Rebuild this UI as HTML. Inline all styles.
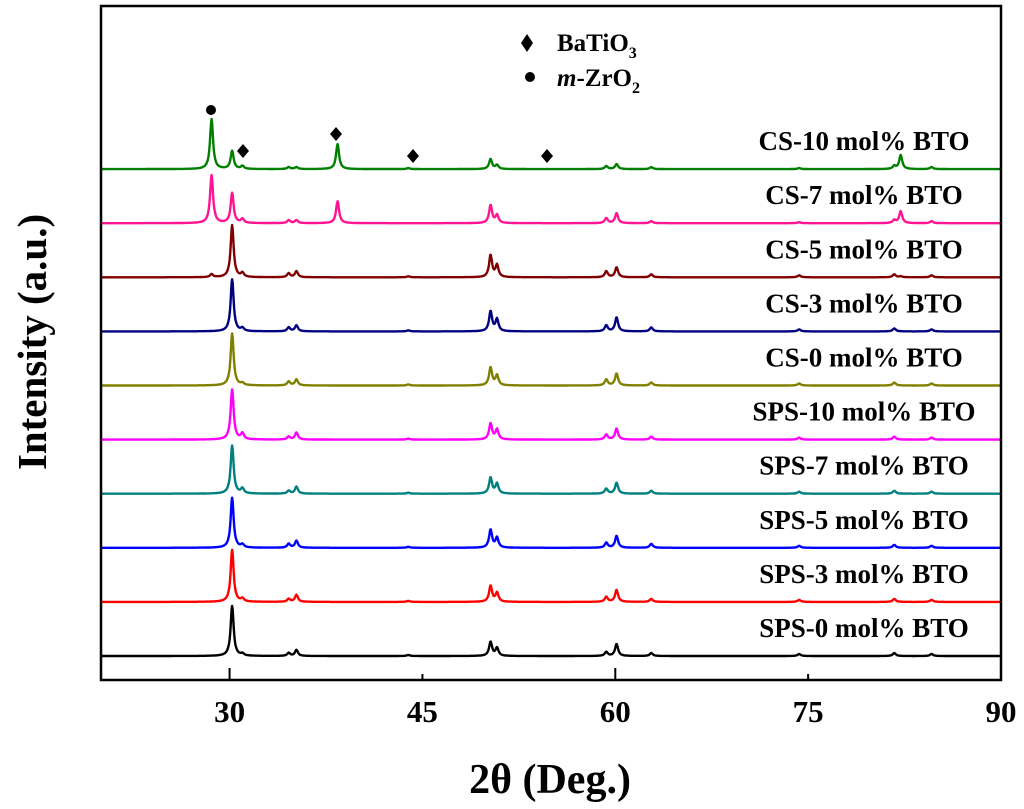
<!DOCTYPE html>
<html><head><meta charset="utf-8">
<style>
html,body{margin:0;padding:0;background:#fff;}
svg{display:block;}
text{font-family:"Liberation Serif",serif;font-weight:bold;fill:#000;}
</style></head>
<body>
<svg id="chart" width="1024" height="809" viewBox="0 0 1024 809">
<g id="series"></g>
<rect x="101" y="6" width="900" height="674" fill="none" stroke="#000" stroke-width="2.5"/>
<g id="xaxis"></g>
<g>
<path d="M527 34 L533 43 L527 52 L521 43 Z" fill="#000"/>
<text x="557" y="51" font-size="25">BaTiO<tspan font-size="16" dy="7">3</tspan></text>
<circle cx="530" cy="77" r="5" fill="#000"/>
<text x="557" y="86" font-size="25"><tspan font-style="italic">m</tspan>-ZrO<tspan font-size="16" dy="7">2</tspan></text>
</g>
<path d="M243 144 L249 151 L243 158 L237 151 Z" fill="#000"/>
<path d="M336 127 L342 134 L336 141 L330 134 Z" fill="#000"/>
<path d="M413 149 L419 156 L413 163 L407 156 Z" fill="#000"/>
<path d="M547 149 L553 156 L547 163 L541 156 Z" fill="#000"/>
<circle cx="211" cy="110" r="5" fill="#000"/>
<text x="0" y="0" font-size="41" text-anchor="middle" transform="translate(46,342) rotate(-90)">Intensity (a.u.)</text>
<text x="550" y="793" font-size="42" text-anchor="middle">2θ (Deg.)</text>
</svg>
<script>
const xMin = 20, xMax = 90;
const xTicks = [30, 45, 60, 75, 90];
const peakPositions = [28.6, 30.2, 31.0, 34.6, 35.2, 38.4, 43.9, 50.3, 50.8, 59.3, 60.1, 62.8, 74.3, 81.7, 82.2, 84.6];
const seriesNames = ["SPS-0 mol% BTO","SPS-3 mol% BTO","SPS-5 mol% BTO","SPS-7 mol% BTO","SPS-10 mol% BTO","CS-0 mol% BTO","CS-3 mol% BTO","CS-5 mol% BTO","CS-7 mol% BTO","CS-10 mol% BTO"];
const seriesColors = ["#000000","#ff0000","#0000ff","#008080","#ff00ff","#808000","#000080","#800000","#ff1493","#008000"];
const seriesOffsets = [0, 1, 2, 3, 4, 5, 6, 7, 8, 9];
const hSPS0 = [0,50,2,3,6,0,1,14,8,4,12,3,2,3,0,2];
const hSPS3 = [0,52,3,3,7,0,1,16,9,5,12,3,2,3,0,2];
const hSPS5 = [0,50,3,4,7,0,1,18,10,5,12,4,2,3,0,2];
const hSPS7 = [0,48,5,3,7,0,1,16,10,5,11,3,2,3,0,2];
const hSPS10 = [0,50,6,3,7,0,1,16,10,5,11,3,2,3,0,2];
const hCS0 = [0,52,2,4,6,0,1,18,10,6,12,3,2,3,0,2];
const hCS3 = [0,52,3,4,6,0,1,20,12,6,14,4,2,3,0,2];
const hCS5 = [3,52,4,4,6,0,1,22,12,6,10,3,2,3,1,2];
const hCS7 = [48,30,4,3,3,22,0,18,8,5,10,2,1,3,12,2];
const hCS10 = [50,18,3,2,2,25,1,10,4,3,5,2,1,3,14,2];
const allHeights = [hSPS0,hSPS3,hSPS5,hSPS7,hSPS10,hCS0,hCS3,hCS5,hCS7,hCS10];

const X0 = 101, X1 = 1001, BASE0 = 656, STEP = 54.1;
function xScale(v){ return X0 + (v - xMin) / (xMax - xMin) * (X1 - X0); }
function yScale(offsetIdx, intensity){ return BASE0 - offsetIdx * STEP - intensity; }
const NS = "http://www.w3.org/2000/svg";
const sg = document.getElementById('series');
allHeights.forEach((hs, si) => {
  let d = "";
  for (let t = xMin; t <= xMax + 1e-9; t += 0.04) {
    let I = 0;
    peakPositions.forEach((p, k) => {
      const g = 0.14;
      const dx = t - p;
      I += hs[k] * g * g / (dx * dx + g * g);
    });
    d += (d ? "L" : "M") + xScale(t).toFixed(1) + " " + yScale(seriesOffsets[si], I).toFixed(1);
  }
  const path = document.createElementNS(NS, 'path');
  path.setAttribute('d', d);
  path.setAttribute('fill', 'none');
  path.setAttribute('stroke', seriesColors[si]);
  path.setAttribute('stroke-width', '2.4');
  path.setAttribute('stroke-linejoin', 'round');
  
  
  sg.appendChild(path);
  const lbl = document.createElementNS(NS, 'text');
  lbl.setAttribute('x', 864);
  lbl.setAttribute('y', yScale(seriesOffsets[si], 0) - 19);
  lbl.setAttribute('font-size', '27');
  lbl.setAttribute('text-anchor', 'middle');
  lbl.textContent = seriesNames[si];
  
  
  sg.appendChild(lbl);
});
const xg = document.getElementById('xaxis');
xTicks.forEach((v, i) => {
  const x = xScale(v);
  const tk = document.createElementNS(NS, 'line');
  tk.setAttribute('x1', x); tk.setAttribute('x2', x);
  tk.setAttribute('y1', 680); tk.setAttribute('y2', i % 2 === 0 ? 668 : 674);
  tk.setAttribute('stroke', '#000'); tk.setAttribute('stroke-width', '2');
  
  
  xg.appendChild(tk);
  const tl = document.createElementNS(NS, 'text');
  tl.setAttribute('x', x); tl.setAttribute('y', 722);
  tl.setAttribute('font-size', '31');
  tl.setAttribute('text-anchor', 'middle');
  tl.textContent = v;
  
  
  xg.appendChild(tl);
});
</script>
</body></html>
